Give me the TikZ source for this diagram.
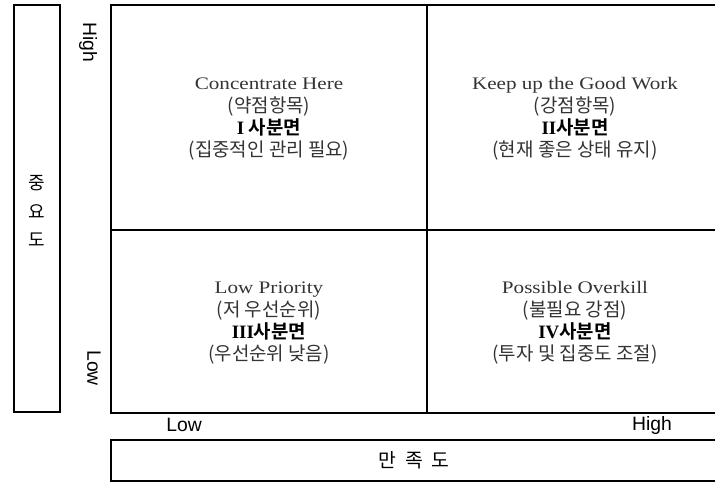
\documentclass[tikz,border=0pt]{standalone}
\usepackage{fontspec}
\setmainfont{Liberation Serif}
\newfontfamily\kr{Noto Sans CJK KR}
\newfontfamily\krb{Noto Sans CJK KR Bold}
\newfontfamily\en{Liberation Serif}[FakeStretch=1.2]
\newfontfamily\rn{Liberation Serif}
\newfontfamily\ax{Liberation Sans}
\definecolor{txtgray}{HTML}{333333}
\newcommand{\nolsk}{\lineskiplimit=-100pt\relax}
\newcommand{\krline}[1]{{\kr\fontsize{14.2}{15}\selectfont #1}}
\newcommand{\enline}[1]{{\en\fontsize{13.2}{15}\selectfont #1}}
\newcommand{\bdline}[2]{{\color{black}{\rn\bfseries\fontsize{14.2}{15}\selectfont #1}{\krb\fontsize{14.2}{15}\selectfont #2}}}
\begin{document}
\begin{tikzpicture}[x=0.75pt,y=-0.75pt,
  box/.style={draw=black,line width=1.5pt},
  qtext/.style={align=center,text=txtgray,font=\fontsize{13}{15}\selectfont\nolsk},
  axlabel/.style={font=\ax\fontsize{14.5}{15}\selectfont,text=black}]
\useasboundingbox (0,0) rectangle (715,482);
\clip (0,0) rectangle (715,482);
% grid
\draw[box] (111,5) rectangle (725,413);
\draw[box] (427,5) -- (427,413);
\draw[box] (111,230) -- (725,230);
% left box
\draw[box] (14,5) rectangle (60,412);
\node[align=center,font=\kr\fontsize{13.5}{21.5}\selectfont] (imp) at (37,211) {중\\요\\도};
% bottom box
\draw[box] (111,440) rectangle (730,481);
\node[font=\kr\fontsize{14.5}{15}\selectfont] (sat) at (414,460) {만\hspace{0.45em}족\hspace{0.45em}도};
% axis labels
\node[axlabel,rotate=-90] (yhigh) at (88,42) {High};
\node[axlabel,rotate=-90] (ylow) at (94,368) {Low};
\node[axlabel] (xlow) at (184,425) {Low};
\node[axlabel] (xhigh) at (652,425) {High};
% quadrant texts
\node[qtext] (q1) at (269,119) {\enline{Concentrate Here}\\[2.5pt]\krline{(약점항목)}\\[1.5pt]\bdline{I }{사분면}\\[1.5pt]\krline{(집중적인 관리 필요)}};
\node[qtext] (q2) at (575,119) {\enline{Keep up the Good Work}\\[2.5pt]\krline{(강점항목)}\\[1.5pt]\bdline{II}{사분면}\\[1.5pt]\krline{(현재 좋은 상태 유지)}};
\node[qtext] (q3) at (269,323) {\enline{Low Priority}\\[2.5pt]\krline{(저 우선순위)}\\[1.5pt]\bdline{III}{사분면}\\[1.5pt]\krline{(우선순위 낮음)}};
\node[qtext] (q4) at (575,323) {\enline{Possible Overkill}\\[2.5pt]\krline{(불필요 강점)}\\[1.5pt]\bdline{IV}{사분면}\\[1.5pt]\krline{(투자 및 집중도 조절)}};
\end{tikzpicture}
\end{document}
